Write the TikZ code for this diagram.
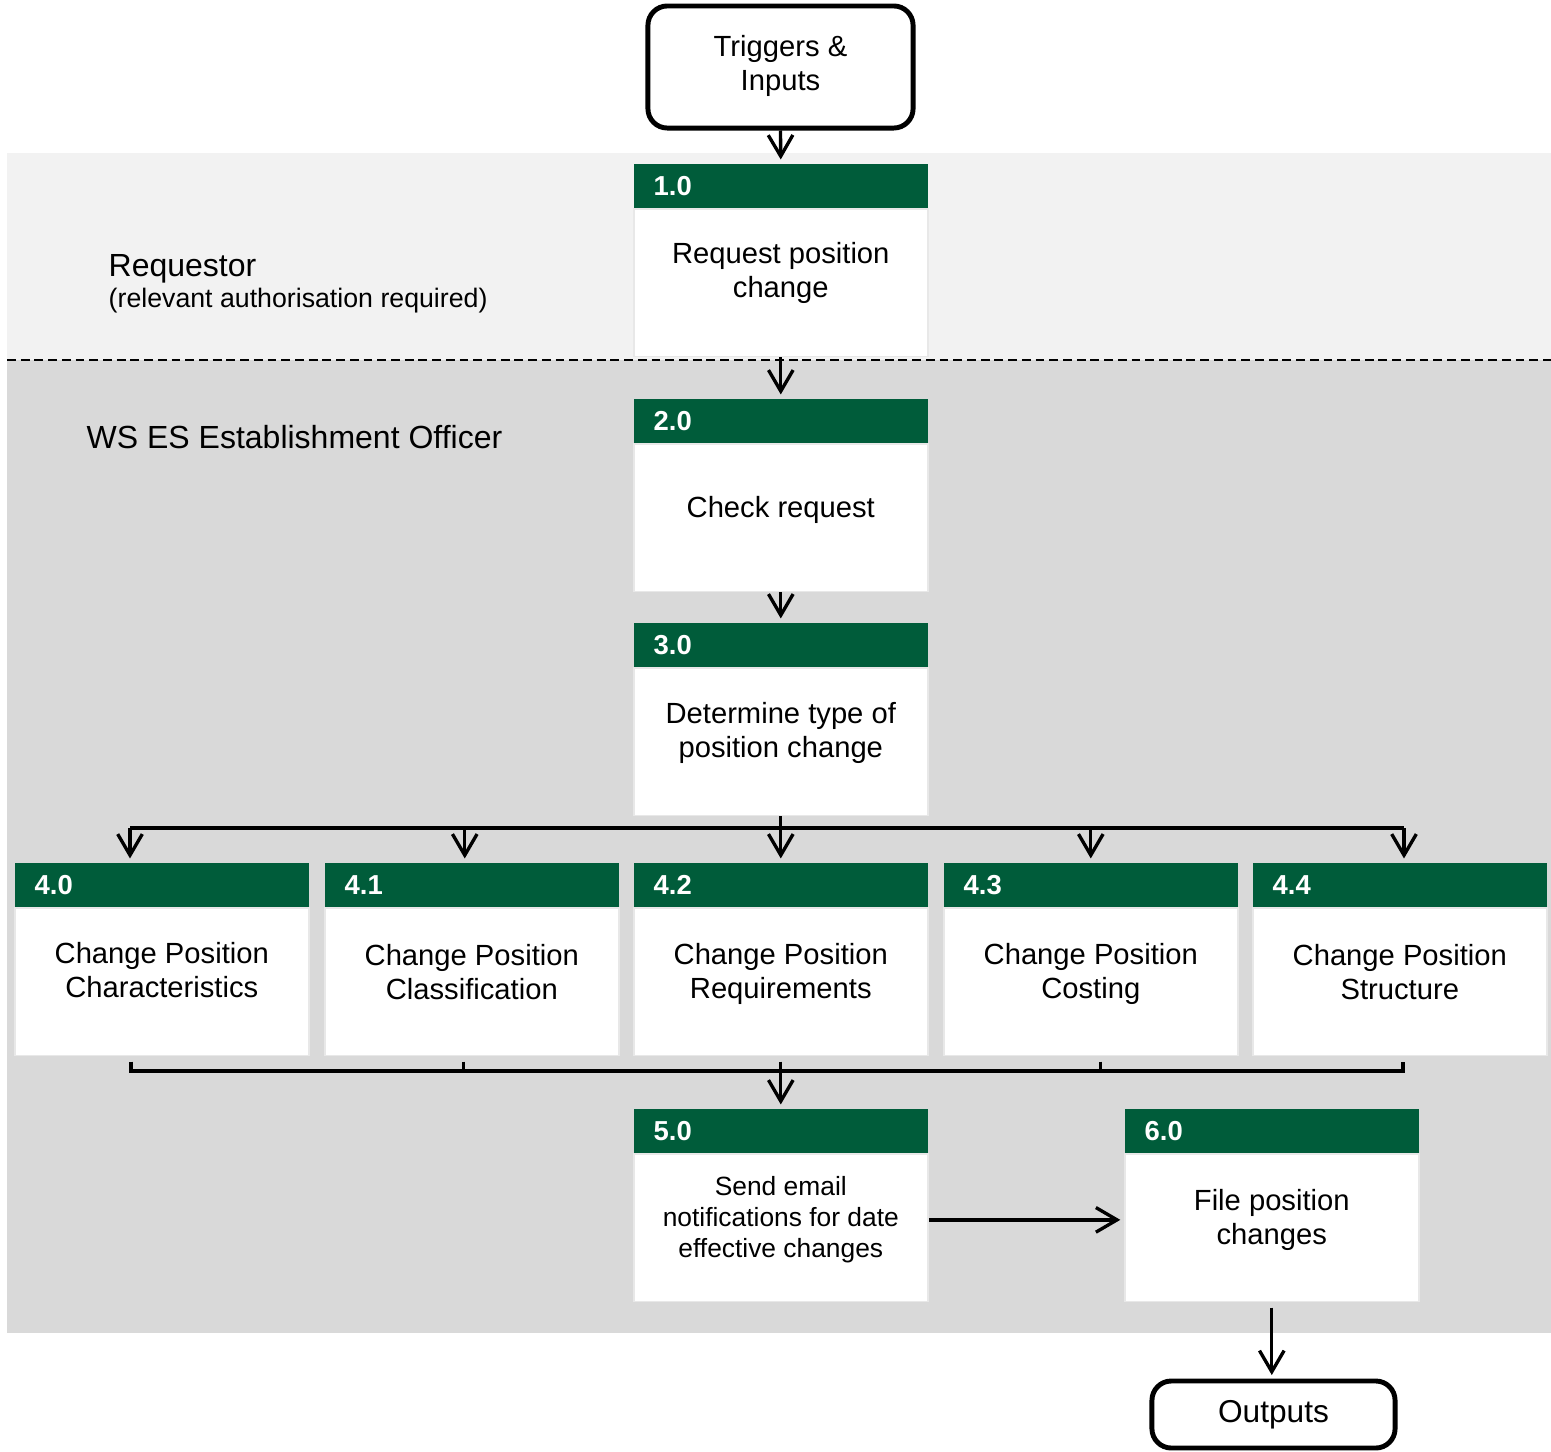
\documentclass[tikz,border=0pt]{standalone}
\usepackage{fontspec}
\setmainfont{Liberation Sans}
\usetikzlibrary{positioning,arrows.meta,calc}
\definecolor{hdrgreen}{HTML}{005C3A}
\definecolor{lightband}{HTML}{F2F2F2}
\definecolor{darkband}{HTML}{D9D9D9}
\tikzset{
  hdr/.style={fill=hdrgreen, anchor=north west, inner xsep=0.2cm, inner ysep=0pt,
    text width=2.54cm, minimum height=0.44cm, align=left, text=white,
    font=\fontsize{7.8}{9}\selectfont\bfseries},
  body/.style={fill=white, draw=gray!18, line width=0.5pt, inner sep=0pt,
    minimum width=2.94cm, minimum height=1.47cm},
  txt/.style={align=center, inner sep=0pt, font=\fontsize{8.3}{9.7}\selectfont},
  term/.style={draw, fill=white, line width=1.4pt, rounded corners=5.5pt, align=center,
    inner sep=0pt, font=\fontsize{8.3}{9.7}\selectfont},
  lane/.style={anchor=west, inner sep=0pt, font=\fontsize{9.1}{11}\selectfont},
  conn/.style={line width=0.95pt},
  arr/.style={conn, -{Straight Barb[length=6pt,width=7pt]}, shorten >=1pt},
}
\begin{document}
\begin{tikzpicture}[x=0.01cm, y=-0.01cm]
    \useasboundingbox (0,0) rectangle (1551,1451);
    % lanes
    \fill[lightband] (7,153) rectangle (1551,360);
    \fill[darkband] (7,360) rectangle (1551,1333);
    \draw[dashed, dash pattern=on 2.5pt off 1.4pt, line width=0.5pt] (7,360) -- (1551,360);
    \node[lane] (req) at (108,269) {Requestor};
    \node[lane, font=\fontsize{7.6}{9}\selectfont] (reqnote) at (108,301) {(relevant authorisation required)};
    \node[lane] (officer) at (86,437) {WS ES Establishment Officer};
    % triggers
    \node[term, minimum width=2.65cm, minimum height=1.22cm] (trig) at (780.5,67) {\raisebox{2.4pt}{\begin{tabular}{@{}c@{}}Triggers \&\\Inputs\end{tabular}}};
    % 1.0
    \node[hdr] (h1) at (633,163) {1.0};
    \node[body, below=0cm of h1] (b1) {};
    \node[txt] (t1) at ($(b1.center)+(0,-10)$) {Request position\\change};
    % 2.0
    \node[hdr] (h2) at (633,398) {2.0};
    \node[body, below=0cm of h2] (b2) {};
    \node[txt] (t2) at ($(b2.center)+(0,-8)$) {Check request};
    % 3.0
    \node[hdr] (h3) at (633,622) {3.0};
    \node[body, below=0cm of h3] (b3) {};
    \node[txt] (t3) at ($(b3.center)+(0,-9)$) {Determine type of\\position change};
    % 4.x
    \node[hdr] (h40) at (14,862) {4.0};
    \node[body, below=0cm of h40] (b40) {};
    \node[txt] (t40) at ($(b40.center)+(0,-12)$) {Change Position\\Characteristics};
    \node[hdr] (h41) at (324,862) {4.1};
    \node[body, below=0cm of h41] (b41) {};
    \node[txt] (t41) at ($(b41.center)+(0,-10)$) {Change Position\\Classification};
    \node[hdr] (h42) at (633,862) {4.2};
    \node[body, below=0cm of h42] (b42) {};
    \node[txt] (t42) at ($(b42.center)+(0,-8)$) {Change Position\\Requirements};
    \node[hdr] (h43) at (943,862) {4.3};
    \node[body, below=0cm of h43] (b43) {};
    \node[txt] (t43) at ($(b43.center)+(0,-8)$) {Change Position\\Costing};
    \node[hdr] (h44) at (1252,862) {4.4};
    \node[body, below=0cm of h44] (b44) {};
    \node[txt] (t44) at ($(b44.center)+(0,-10)$) {Change Position\\Structure};
    % 5.0 and 6.0
    \node[hdr] (h5) at (633,1108) {5.0};
    \node[body, below=0cm of h5] (b5) {};
    \node[txt, font=\fontsize{7.5}{8.8}\selectfont] (t5) at ($(b5.center)+(0,-8)$) {Send email\\notifications for date\\effective changes};
    \node[hdr] (h6) at (1124,1108) {6.0};
    \node[body, below=0cm of h6] (b6) {};
    \node[txt] (t6) at ($(b6.center)+(0,-8)$) {File position\\changes};
    % outputs
    \node[term, minimum width=2.43cm, minimum height=0.67cm, font=\fontsize{9}{11}\selectfont] (out) at (1273.5,1414.5) {\raisebox{-0.7pt}{Outputs}};
    % connectors
    \draw[arr] (trig.south) -- (h1.north);
    \draw[arr] (b1.south) -- (h2.north);
    \draw[arr] (b2.south) -- (h3.north);
    % split
    \coordinate (splitL) at (130,828);
    \coordinate (splitR) at (1404,828);
    \draw[conn] (splitL) -- (splitR);
    \draw[arr] (b3.south) -- (h42.north);
    \draw[arr] (splitL) -- (splitL |- h40.north);
    \draw[arr] ([xshift=-2pt]splitL -| h41.north) -- ([xshift=-2pt]h41.north);
    \draw[arr] (splitL -| h43.north) -- (h43.north);
    \draw[arr] (splitR) -- (splitR |- h44.north);
    % merge
    \coordinate (mergeL) at (131,1071);
    \coordinate (mergeR) at (1403,1071);
    \draw[conn] ([yshift=-1.5pt]b40.south -| mergeL) -- (mergeL) -- (mergeR) -- ([yshift=-1.5pt]b44.south -| mergeR);
    \draw[conn] ([xshift=-2.3pt,yshift=-1.5pt]b41.south) -- ([xshift=-2.3pt]b41.south |- mergeL);
    \draw[conn] ([xshift=2.8pt,yshift=-1.5pt]b43.south) -- ([xshift=2.8pt]b43.south |- mergeL);
    \draw[arr, shorten <=1.5pt] (b42.south) -- (h5.north);
    \draw[arr] (b5.east |- t5) -- (b6.west |- t5);
    \draw[arr, shorten <=1.5pt] (b6.south) -- (b6.south |- out.north);
\end{tikzpicture}
\end{document}
